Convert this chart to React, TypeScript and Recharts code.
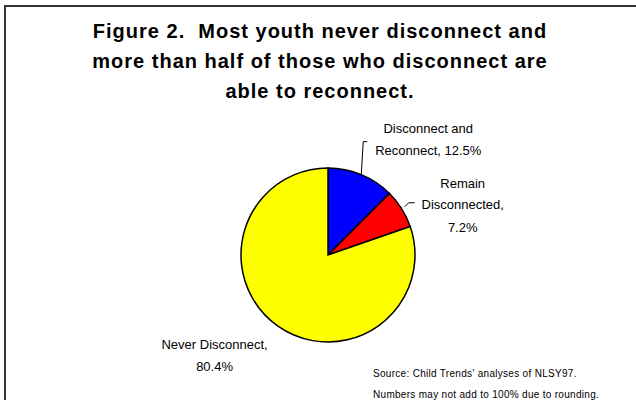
import { PieChart, Pie, Cell } from "recharts";

const categories = ["Disconnect and Reconnect", "Remain Disconnected", "Never Disconnect"];
const shares = [12.5, 7.2, 80.4];
const sliceColors = ["#0000FF", "#FF0000", "#FFFF00"];
// label text lines, one list per slice
const labelLines = [
  ["Disconnect and", "Reconnect, 12.5%"],
  ["Remain", "Disconnected,", "7.2%"],
  ["Never Disconnect,", "80.4%"],
];
const titleLines = [
  "Figure 2.  Most youth never disconnect and",
  "more than half of those who disconnect are",
  "able to reconnect.",
];
const notes = [
  "Source: Child Trends' analyses of NLSY97.",
  "Numbers may not add to 100% due to rounding.",
];

const data = categories.map((name, i) => ({ name, value: shares[i] }));

const RADIAN = Math.PI / 180;
const FONT = "'Liberation Sans', Arial, sans-serif";

// label placement relative to the slice's outer edge point
const labelLayout = [
  { dx: 67, ys: [-46, -24], leader: [[0, 0], [2, -33], [6, -33]] },
  { dx: 61, ys: [-25, -4, 19], leader: [[3, -2], [7, -6], [13, -6]] },
  { dx: -63, ys: [19, 41], leader: null },
];

function renderLabel(props: any) {
  const { cx, cy, midAngle, outerRadius, index } = props;
  const ex = cx + outerRadius * Math.cos(-midAngle * RADIAN);
  const ey = cy + outerRadius * Math.sin(-midAngle * RADIAN);
  const lay = labelLayout[index];
  return (
    <g key={`lbl-${index}`}>
      {lay.leader && (
        <polyline
          points={lay.leader.map(([x, y]) => `${ex + x},${ey + y}`).join(" ")}
          fill="none"
          stroke="#000"
          strokeWidth={1}
        />
      )}
      {labelLines[index].map((t, j) => (
        <text
          key={j}
          x={ex + lay.dx}
          y={ey + lay.ys[j]}
          textAnchor="middle"
          dominantBaseline="central"
          fontFamily={FONT}
          fontSize={13}
          fill="#000"
        >
          {t}
        </text>
      ))}
    </g>
  );
}

export default function App() {
  return (
    <div
      style={{
        position: "absolute",
        left: 0,
        top: 0,
        width: 636,
        height: 400,
        overflow: "hidden",
        background: "#fff",
      }}
    >
      <div
        style={{
          position: "absolute",
          left: 4,
          top: 5,
          width: 640,
          height: 400,
          borderLeft: "2px solid #333",
          borderTop: "2px solid #333",
        }}
      />
      <div
        style={{
          position: "absolute",
          left: 0,
          top: 16,
          width: 640,
          textAlign: "center",
          fontFamily: FONT,
          fontWeight: "bold",
          fontSize: 20,
          lineHeight: "30px",
          letterSpacing: 1,
          color: "#000",
        }}
      >
        {titleLines.map((t) => (
          <div key={t} style={{ whiteSpace: "pre" }}>
            {t}
          </div>
        ))}
      </div>
      <div style={{ position: "absolute", left: 0, top: 0 }}>
        <PieChart
          width={636}
          height={400}
          margin={{ top: 0, right: 0, bottom: 0, left: 0 }}
        >
          <Pie
            data={data}
            dataKey="value"
            nameKey="name"
            cx={328}
            cy={255}
            outerRadius={87}
            startAngle={90}
            endAngle={-270}
            stroke="#000"
            strokeWidth={1.5}
            label={renderLabel}
            labelLine={false}
            isAnimationActive={false}
          >
            {data.map((d, i) => (
              <Cell key={d.name} fill={sliceColors[i]} />
            ))}
          </Pie>
        </PieChart>
      </div>
      <div
        style={{
          position: "absolute",
          left: 373,
          top: 363,
          fontFamily: FONT,
          fontSize: 10,
          lineHeight: "21px",
          letterSpacing: 0.3,
          color: "#000",
        }}
      >
        {notes.map((t) => (
          <div key={t}>{t}</div>
        ))}
      </div>
    </div>
  );
}
